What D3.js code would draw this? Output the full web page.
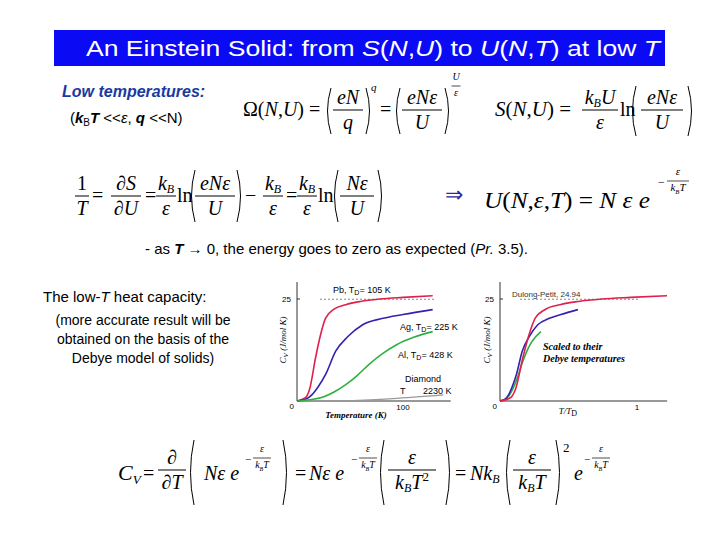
<!DOCTYPE html>
<html><head><meta charset="utf-8">
<script src="https://cdn.jsdelivr.net/npm/d3@7"></script>
<style>body{margin:0;background:#fff}</style>
</head><body>
<svg id="c" width="720" height="540"></svg>
<script>
// Cv data (T in K, Cv in J/mol K)
const pb = [[0,0],[8,0.8],[12,3],[17.5,10.6],[22,16],[27,20.3],[35,22.5],[46,23.6],[60,24.4],[78,25],[100,25.4],[128,25.8]];
const ag = [[0,0],[8,0.4],[14,1.5],[20,3.5],[27,6.5],[36.5,12.2],[48,15.8],[62,18.7],[80,20.2],[100,21.2],[128,22.4]];
const al = [[0,0],[12,0.3],[24,0.9],[35,2.2],[46,4],[57,6.3],[68,9],[80,11.5],[94,13.8],[110,15.6],[128,17]];
const diamond = [[52,0.1],[90,0.6],[138,1.5]];
const debyeT = {pb: 105, ag: 225, al: 428};
const dulongPetit = 24.94;

const svg = d3.select("#c");
const SERIF = "Liberation Serif, Times New Roman, serif";
const SANS = "Liberation Sans, Arial, sans-serif";

// title
svg.append("rect").attr("x", 54).attr("y", 30).attr("width", 611).attr("height", 36).attr("fill", "#0a0af5");
svg.append("text").attr("x", 86).attr("y", 56).attr("fill", "#fff").attr("textLength", 574).attr("lengthAdjust", "spacingAndGlyphs")
  .style("font", "22px " + SANS).html('An Einstein Solid: from <tspan font-style="italic">S</tspan>(<tspan font-style="italic">N</tspan>,<tspan font-style="italic">U</tspan>) to <tspan font-style="italic">U</tspan>(<tspan font-style="italic">N</tspan>,<tspan font-style="italic">T</tspan>) at low <tspan font-style="italic">T</tspan>');

// equation helpers
function t(x, y, s, size, anchor) {
  return svg.append("text").attr("x", x).attr("y", y).attr("text-anchor", anchor || "start")
    .style("font", (size || 20) + "px " + SERIF).html(s);
}
function frac(cx, y, num, den, w, size) {
  size = size || 20;
  t(cx, y - 6, num, size, "middle");
  svg.append("line").attr("x1", cx - w / 2).attr("x2", cx + w / 2).attr("y1", y).attr("y2", y).attr("stroke", "#000").attr("stroke-width", size > 12 ? 1 : 0.7);
  t(cx, y + size * 0.95, den, size, "middle");
}
function paren(x, y1, y2, dir) {
  const b = 7 * dir;
  svg.append("path").attr("d", `M${x},${y1} Q${x - b},${(y1 + y2) / 2} ${x},${y2}`)
    .attr("fill", "none").attr("stroke", "#000").attr("stroke-width", 1);
}
const I = s => `<tspan font-style="italic">${s}</tspan>`;
const kB = `${I("k")}<tspan font-size="0.6em" font-style="italic" baseline-shift="-3">B</tspan>`;
const kBT = `${kB}${I("T")}`;
const eps = I("ε");

// row 1
svg.append("text").attr("x", 62).attr("y", 97).attr("fill", "#1a3aa0").style("font", "italic bold 16px " + SANS).text("Low temperatures:");
svg.append("text").attr("x", 70).attr("y", 123).style("font", "15px " + SANS)
  .html(`(<tspan font-weight="bold" font-style="italic">k</tspan><tspan font-size="10" baseline-shift="-3">B</tspan><tspan font-weight="bold" font-style="italic">T</tspan> &lt;&lt;<tspan font-style="italic">ε</tspan>, <tspan font-weight="bold" font-style="italic">q</tspan> &lt;&lt;N)`);
t(243, 116, `Ω(${I("N")},${I("U")}) =`);
paren(331, 88, 134, 1); frac(348, 110, I("eN"), I("q"), 30); paren(366, 88, 134, -1);
t(371, 91, I("q"), 11);
t(380, 116, "=");
paren(400, 88, 134, 1); frac(422, 110, I("eNε"), I("U"), 40); paren(445, 88, 134, -1);
frac(456, 86, I("U"), I("ε"), 9, 10);
t(495, 116, `${I("S")}(${I("N")},${I("U")}) =`, 21);
frac(600, 110, `${kB}${I("U")}`, eps, 36);
t(620, 116, "ln");
paren(636, 86, 136, 1); frac(662, 110, I("eNε"), I("U"), 42); paren(688, 86, 136, -1);

// row 2
frac(82, 196, "1", I("T"), 14);
t(92, 202, "=");
frac(126, 196, `∂${I("S")}`, `∂${I("U")}`, 30);
t(145, 202, "=");
frac(166, 196, kB, eps, 20);
t(177, 202, "ln");
paren(195, 170, 222, 1); frac(215, 196, I("eNε"), I("U"), 40); paren(237, 170, 222, -1);
t(245, 202, "−");
frac(273, 196, kB, eps, 20);
t(286, 202, "=");
frac(307, 196, kB, eps, 20);
t(318, 202, "ln");
paren(338, 170, 222, 1); frac(357, 196, I("Nε"), I("U"), 34); paren(378, 170, 222, -1);
svg.append("text").attr("x", 445).attr("y", 202).attr("fill", "#2a2aa0").style("font", "22px " + SERIF).text("⇒");
t(484, 208, `${I("U")}(${I("N")},${I("ε")},${I("T")}) = ${I("N")} ${I("ε")} ${I("e")}`, 23).attr("textLength", 166).attr("lengthAdjust", "spacingAndGlyphs");
t(658, 186, "−", 12);
frac(678, 181, eps, kBT, 22, 11);

svg.append("text").attr("x", 145).attr("y", 254).style("font", "15px " + SANS)
  .html(`-  as <tspan font-weight="bold" font-style="italic">T</tspan> → 0, the energy goes to zero as expected (<tspan font-style="italic">Pr.</tspan> 3.5).`);
svg.append("text").attr("x", 43).attr("y", 302).style("font", "15px " + SANS)
  .html(`The low-<tspan font-style="italic">T</tspan> heat capacity:`);
["(more accurate result will be", "obtained on the basis of the", "Debye model of solids)"].forEach((s, i) =>
  svg.append("text").attr("x", 143).attr("y", 325 + i * 19).attr("text-anchor", "middle").style("font", "14px " + SANS).text(s));

// row 4
t(118, 480, `${I("C")}<tspan font-size="0.6em" baseline-shift="-4" font-style="italic">V</tspan>`, 22);
t(143, 480, "=");
frac(172, 470, "∂", `∂${I("T")}`, 28);
paren(194, 440, 505, 1);
t(204, 480, `${I("Nε")} ${I("e")}`);
t(245, 463, "−", 11); frac(262, 458, eps, kBT, 18, 10);
paren(283, 440, 505, -1);
t(295, 480, "=");
t(309, 480, `${I("Nε")}  ${I("e")}`);
t(351, 463, "−", 11); frac(368, 458, eps, kBT, 18, 10);
paren(384, 440, 505, 1); frac(412, 470, eps, `${kBT}<tspan font-size="0.65em" baseline-shift="8">2</tspan>`, 48); paren(446, 440, 505, -1);
t(455, 480, "=");
t(470, 480, `${I("N")}${kB}`);
paren(510, 440, 505, 1); frac(532, 470, eps, kBT, 38); paren(556, 440, 505, -1);
t(563, 452, "2", 13);
t(574, 480, I("e"));
t(584, 463, "−", 11); frac(601, 458, eps, kBT, 18, 10);

// charts
const y = d3.scaleLinear().domain([0, 25]).range([401, 299]);
const xL = d3.scaleLinear().domain([0, 100]).range([297, 403]);
const xR = d3.scaleLinear().domain([0, 1]).range([500, 637]);
const curve = d3.curveMonotoneX;

function frame(x, xmax, yLabelX) {
  const g = svg.append("g");
  g.append("line").attr("x1", x(0)).attr("x2", x(0)).attr("y1", 282).attr("y2", y(0)).attr("stroke", "#333");
  g.append("line").attr("x1", x(0)).attr("x2", x(xmax)).attr("y1", y(0)).attr("y2", y(0)).attr("stroke", "#333");
  g.append("text").attr("x", x(0) - 6).attr("y", y(25) + 3).attr("text-anchor", "end").style("font", "8px " + SANS).text("25");
  g.append("line").attr("x1", x(0)).attr("x2", x(0) + 3).attr("y1", y(25)).attr("y2", y(25)).attr("stroke", "#333");
  g.append("text").attr("x", x(0) - 3).attr("y", y(0) + 8).attr("text-anchor", "end").style("font", "8px " + SANS).text("0");
  g.append("text").attr("transform", `translate(${yLabelX},340) rotate(-90)`).attr("text-anchor", "middle")
    .style("font", "italic 9px " + SERIF).html(`C<tspan font-size="7" baseline-shift="-2">V</tspan> (J/mol K)`);
  return g;
}
const gl = frame(xL, 145, 286);
gl.append("text").attr("x", xL(100)).attr("y", y(0) + 9).attr("text-anchor", "middle").style("font", "8px " + SANS).text("100");
gl.append("text").attr("x", 356).attr("y", 418).attr("text-anchor", "middle").style("font", "italic bold 9px " + SERIF).text("Temperature (K)");
gl.append("line").attr("x1", 320).attr("x2", 434).attr("y1", y(dulongPetit)).attr("y2", y(dulongPetit)).attr("stroke", "#555").attr("stroke-dasharray", "2,2").attr("stroke-width", 0.7);
const gr = frame(xR, 1.22, 490);
gr.append("text").attr("x", xR(1)).attr("y", y(0) + 9).attr("text-anchor", "middle").style("font", "8px " + SANS).text("1");
gr.append("text").attr("x", 568).attr("y", 414).attr("text-anchor", "middle").style("font", "italic 9px " + SERIF).html(`T/T<tspan font-style="normal" font-size="8" baseline-shift="-2">D</tspan>`);
gr.append("line").attr("x1", 520).attr("x2", 640).attr("y1", y(dulongPetit)).attr("y2", y(dulongPetit)).attr("stroke", "#555").attr("stroke-dasharray", "2,2").attr("stroke-width", 0.7);
gr.append("text").attr("x", 512).attr("y", 297).style("font", "8px " + SANS).attr("fill", "#333").text("Dulong-Petit, 24.94");
gr.append("text").attr("x", 543).attr("y", 350).style("font", "italic bold 10px " + SERIF).text("Scaled to their");
gr.append("text").attr("x", 543).attr("y", 362).style("font", "italic bold 10px " + SERIF).text("Debye temperatures");

const series = [
  {d: pb, c: "#e0204a", td: debyeT.pb},
  {d: ag, c: "#3322b0", td: debyeT.ag},
  {d: al, c: "#2eb040", td: debyeT.al}
];
series.forEach(s => {
  svg.append("path").attr("d", d3.line().x(p => xL(p[0])).y(p => y(p[1])).curve(curve)(s.d))
    .attr("fill", "none").attr("stroke", s.c).attr("stroke-width", 1.6);
});
svg.append("path").attr("d", d3.line().x(p => xL(p[0])).y(p => y(p[1])).curve(curve)(diamond))
  .attr("fill", "none").attr("stroke", "#999").attr("stroke-width", 1.2);
series.slice().reverse().forEach(s => {
  svg.append("path").attr("d", d3.line().x(p => xR(p[0] / s.td)).y(p => y(p[1])).curve(curve)(s.d))
    .attr("fill", "none").attr("stroke", s.c).attr("stroke-width", 1.6);
});
const lab = (x, yy, h) => svg.append("text").attr("x", x).attr("y", yy).style("font", "9px " + SANS).html(h);
const TD = 'T<tspan font-size="7" baseline-shift="-2">D</tspan>';
lab(333, 293, `Pb, ${TD}= 105 K`);
lab(400, 330, `Ag, ${TD}= 225 K`);
lab(398, 358, `Al, ${TD}= 428 K`);
lab(405, 382, "Diamond");
lab(400, 394, "T&#160;&#160;&#160;&#160;&#160;&#160;&#160;2230 K");
</script>
</body></html>
